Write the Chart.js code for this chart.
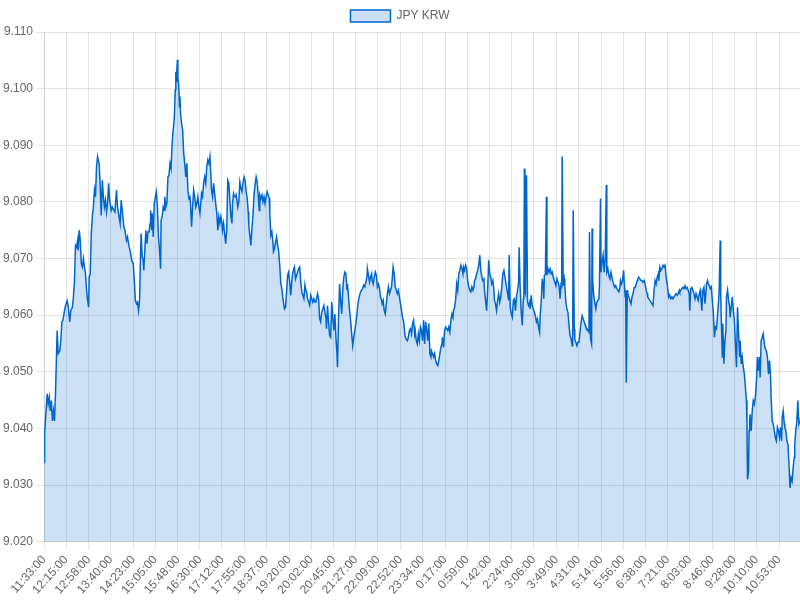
<!DOCTYPE html>
<html lang="en">
<head>
  <meta charset="UTF-8" />
  <title>JPY KRW</title>
  <script src="https://cdn.jsdelivr.net/npm/chart.js"></script>
  <style>
    body { margin: 0; background: #fff; }
    .wrap { width: 800px; height: 600px; }
  </style>
</head>
<body>
  <div class="wrap"><canvas id="rateChart"></canvas></div>

  <script>
    // minutes since 11:33:00
    const minutes = [
      0, 1, 3, 6, 8, 10, 12, 14, 16, 18, 20, 22, 25, 27, 30, 32, 34, 36, 39, 41, 44, 46, 49, 51, 54, 56, 58, 60, 62, 64, 65, 67, 69, 71, 73, 75, 77, 79, 81, 83, 85, 86, 88, 90, 92, 94, 96, 98, 100, 102, 104, 105, 107, 109, 111, 113, 115, 117, 119, 121, 123, 125, 128, 130, 133, 135, 138, 140, 142, 145, 147, 149, 152, 154, 157, 159, 162, 164, 167, 170, 172, 174, 176, 178, 180, 182,
      184, 185, 187, 189, 190, 192, 194, 196, 198, 200, 202, 203, 205, 206, 208, 210, 212, 214, 216, 218, 220, 222, 223, 225, 227, 229, 230, 232, 234, 236, 238, 240, 242, 244, 246, 248, 250, 251, 252, 253, 254, 255, 257, 258, 259, 260, 262, 264, 266, 268, 270, 272, 274, 276, 278, 279, 281, 283, 285, 287, 289, 291, 293, 295, 297, 299, 300, 302, 304, 306, 308, 310, 312, 314, 316, 318, 319, 321, 323, 325, 327, 329, 331, 333, 335, 337, 339, 340, 342, 344, 346, 348, 350, 352, 354, 356, 358, 359, 361, 363, 365,
      366, 369, 371, 373, 375, 377, 379, 381, 383, 385, 387, 389, 390, 392, 394, 396, 398, 400, 402, 404, 406, 408, 410, 411, 413, 415, 417, 419, 421, 423, 425, 427, 429, 430, 432, 434, 436, 437, 439, 441, 443, 445, 447, 449, 451, 453, 455, 457, 458, 460, 462, 464, 466, 468, 470, 472, 474, 476, 477, 479, 481, 483, 485, 487, 489, 491, 493, 495, 497, 498, 500, 502, 504, 506, 508, 510, 512, 514, 516, 518, 519, 521, 523, 525, 527, 529, 531, 533, 535, 537, 538, 540, 542, 544,
      546, 548, 550, 552, 554, 556, 558, 559, 561, 563, 565, 567, 569, 571, 573, 575, 577, 578, 580, 582, 584, 586, 588, 590, 592, 594, 596, 598, 599, 601, 603, 605, 607, 609, 611, 613, 615, 616, 618, 620, 622, 624, 625, 627, 629, 631, 633, 635, 637, 639, 641, 643, 644, 646, 648, 650, 652, 654, 656, 658, 660, 662, 664, 665, 667, 669, 671, 673, 675, 677, 679, 681, 683, 685, 686, 688, 690, 692, 694, 696, 698, 700, 702, 704, 706, 707, 709, 711, 713, 715, 717, 719, 721, 723,
      725, 727, 729, 731, 733, 735, 737, 738, 740, 742, 744, 746, 748, 750, 752, 754, 756, 758, 759, 761, 763, 765, 767, 769, 771, 773, 775, 777, 779, 780, 782, 784, 786, 788, 790, 792, 794, 796, 798, 799, 801, 803, 805, 807, 809, 811, 813, 815, 817, 819, 820, 822, 824, 826, 828, 830, 832, 834, 836, 838, 839, 841, 843, 845, 847, 849, 851, 853, 855, 857, 858, 860, 862, 864, 866, 868, 870, 872, 874, 876, 878, 879, 881, 883, 885, 886, 888, 890, 892, 894, 896, 898, 900, 902,
      904, 905, 907, 909, 911, 913, 914, 915, 916, 917, 919, 921, 923, 925, 926, 928, 930, 932, 934, 936, 938, 940, 942, 944, 945, 947, 949, 951, 952, 953, 955, 957, 958, 960, 962, 964, 966, 968, 970, 971, 973, 975, 977, 979, 981, 983, 985, 986, 987, 989, 991, 992, 994, 996, 998, 1000, 1002, 1004, 1006, 1007, 1008, 1010, 1011, 1013, 1015, 1017, 1019, 1021, 1023, 1025, 1027, 1029, 1031, 1032, 1034, 1036, 1038, 1039, 1041, 1043, 1044, 1045, 1047, 1049, 1051, 1053, 1055, 1057, 1058, 1060, 1061, 1063, 1065, 1067, 1069, 1071, 1072, 1074, 1076, 1078, 1080,
      1083, 1085, 1087, 1089, 1091, 1093, 1095, 1097, 1098, 1100, 1102, 1104, 1105, 1107, 1108, 1109, 1111, 1112, 1114, 1116, 1118, 1120, 1122, 1124, 1126, 1128, 1130, 1131, 1133, 1135, 1137, 1139, 1141, 1143, 1145, 1147, 1149, 1150, 1152, 1154, 1156, 1158, 1160, 1162, 1164, 1166, 1168, 1170, 1171, 1173, 1175, 1177, 1179, 1181, 1183, 1185, 1187, 1189, 1190, 1192, 1194, 1196, 1198, 1200, 1202, 1204, 1206, 1208, 1210, 1211, 1213, 1215, 1217, 1219, 1221, 1223, 1225, 1227, 1229, 1230, 1232, 1234, 1236, 1238, 1240, 1242, 1244, 1246, 1248, 1250, 1251, 1253, 1255, 1257, 1259,
      1262, 1264, 1265, 1267, 1269, 1271, 1273, 1275, 1277, 1279, 1281, 1283, 1285, 1286, 1288, 1289, 1291, 1292, 1293, 1295, 1297, 1299, 1300, 1302, 1304, 1306, 1307, 1309, 1311, 1313, 1315, 1317, 1319, 1321, 1323, 1325, 1326, 1328, 1330, 1332, 1334, 1336, 1338, 1339, 1340, 1342, 1343, 1344, 1345, 1347, 1349, 1351, 1353, 1355, 1357, 1359, 1361, 1363, 1364, 1366, 1368, 1370, 1372, 1374, 1376, 1378, 1380, 1382, 1384, 1385, 1387, 1389, 1391, 1393, 1395, 1397, 1399, 1401, 1403, 1405, 1406, 1408, 1410, 1411, 1413, 1415, 1417, 1419, 1421, 1423, 1425, 1427, 1429, 1430, 1432, 1434, 1436, 1437, 1438, 1440
    ];

    const rates = [
      9.0340, 9.0390, 9.0419, 9.0461, 9.0443, 9.0455, 9.0431, 9.0449, 9.0413, 9.0431, 9.0413, 9.0467, 9.0573, 9.0532, 9.0537, 9.0555, 9.0588, 9.0591, 9.0608, 9.0617, 9.0626, 9.0617, 9.0588, 9.0608, 9.0614, 9.0632, 9.0661, 9.0723, 9.0720, 9.0732, 9.0714, 9.0750, 9.0732, 9.0691, 9.0685, 9.0700, 9.0685, 9.0673, 9.0644, 9.0626, 9.0614, 9.0667, 9.0673, 9.0744, 9.0774, 9.0791, 9.0821, 9.0809, 9.0862, 9.0880, 9.0871, 9.0868, 9.0827, 9.0776, 9.0838, 9.0809, 9.0791, 9.0803, 9.0782, 9.0797, 9.0833, 9.0803, 9.0785, 9.0791, 9.0785, 9.0782, 9.0821, 9.0791, 9.0779, 9.0762, 9.0803, 9.0785, 9.0756, 9.0750, 9.0732, 9.0738, 9.0720, 9.0714, 9.0697, 9.0691, 9.0661, 9.0626, 9.0620, 9.0623, 9.0608, 9.0626,
      9.0715, 9.0744, 9.0703, 9.0697, 9.0679, 9.0715, 9.0750, 9.0726, 9.0747, 9.0747, 9.0762, 9.0785, 9.0750, 9.0780, 9.0738, 9.0797, 9.0809, 9.0818, 9.0791, 9.0738, 9.0715, 9.0682, 9.0768, 9.0774, 9.0791, 9.0785, 9.0809, 9.0791, 9.0797, 9.0844, 9.0847, 9.0868, 9.0859, 9.0903, 9.0927, 9.0945, 9.0998, 9.1030, 9.1013, 9.1033, 9.1051, 9.1021, 9.0998, 9.0968, 9.0986, 9.0956, 9.0939, 9.0927, 9.0886, 9.0868, 9.0844, 9.0868, 9.0821, 9.0806, 9.0809, 9.0797, 9.0756, 9.0791, 9.0821, 9.0809, 9.0791, 9.0797, 9.0809, 9.0791, 9.0780, 9.0803, 9.0815, 9.0809, 9.0833, 9.0844, 9.0833, 9.0862, 9.0874, 9.0868, 9.0880, 9.0844, 9.0821, 9.0809, 9.0833, 9.0815, 9.0797, 9.0780, 9.0750, 9.0774, 9.0762, 9.0774, 9.0762, 9.0750, 9.0762, 9.0744, 9.0726, 9.0750, 9.0838, 9.0833, 9.0803, 9.0774, 9.0762, 9.0797, 9.0815, 9.0809, 9.0809,
      9.0812, 9.0791, 9.0800, 9.0835, 9.0824, 9.0818, 9.0833, 9.0844, 9.0838, 9.0818, 9.0806, 9.0782, 9.0759, 9.0741, 9.0723, 9.0753, 9.0776, 9.0812, 9.0830, 9.0844, 9.0835, 9.0812, 9.0785, 9.0812, 9.0806, 9.0812, 9.0800, 9.0809, 9.0797, 9.0809, 9.0818, 9.0812, 9.0806, 9.0782, 9.0741, 9.0747, 9.0729, 9.0712, 9.0717, 9.0729, 9.0738, 9.0723, 9.0712, 9.0688, 9.0655, 9.0647, 9.0629, 9.0617, 9.0611, 9.0614, 9.0641, 9.0670, 9.0676, 9.0658, 9.0635, 9.0661, 9.0676, 9.0682, 9.0685, 9.0664, 9.0670, 9.0676, 9.0682, 9.0685, 9.0658, 9.0641, 9.0635, 9.0629, 9.0653, 9.0647, 9.0641, 9.0629, 9.0623, 9.0617, 9.0635, 9.0629, 9.0623, 9.0629, 9.0623, 9.0623, 9.0629, 9.0638, 9.0629, 9.0594, 9.0588, 9.0605, 9.0611, 9.0617, 9.0605, 9.0594, 9.0576, 9.0617, 9.0588, 9.0564,
      9.0561, 9.0623, 9.0596, 9.0573, 9.0602, 9.0561, 9.0532, 9.0508, 9.0596, 9.0655, 9.0626, 9.0602, 9.0644, 9.0667, 9.0676, 9.0673, 9.0644, 9.0655, 9.0632, 9.0608, 9.0591, 9.0567, 9.0546, 9.0561, 9.0573, 9.0585, 9.0602, 9.0620, 9.0626, 9.0635, 9.0641, 9.0644, 9.0647, 9.0653, 9.0650, 9.0658, 9.0667, 9.0682, 9.0670, 9.0658, 9.0667, 9.0673, 9.0661, 9.0655, 9.0667, 9.0676, 9.0670, 9.0650, 9.0655, 9.0647, 9.0632, 9.0626, 9.0620, 9.0626, 9.0608, 9.0602, 9.0620, 9.0638, 9.0650, 9.0638, 9.0644, 9.0650, 9.0673, 9.0685, 9.0673, 9.0650, 9.0644, 9.0638, 9.0644, 9.0632, 9.0620, 9.0608, 9.0596, 9.0588, 9.0579, 9.0561, 9.0558, 9.0555, 9.0561, 9.0573, 9.0576, 9.0567, 9.0585, 9.0591, 9.0567, 9.0573, 9.0555, 9.0549, 9.0567, 9.0555, 9.0579, 9.0573, 9.0555, 9.0591,
      9.0549, 9.0588, 9.0573, 9.0555, 9.0585, 9.0532, 9.0526, 9.0537, 9.0532, 9.0526, 9.0532, 9.0520, 9.0514, 9.0511, 9.0520, 9.0532, 9.0543, 9.0549, 9.0561, 9.0543, 9.0573, 9.0579, 9.0576, 9.0573, 9.0579, 9.0570, 9.0591, 9.0602, 9.0596, 9.0608, 9.0614, 9.0626, 9.0655, 9.0644, 9.0673, 9.0679, 9.0688, 9.0682, 9.0673, 9.0685, 9.0679, 9.0688, 9.0682, 9.0661, 9.0650, 9.0644, 9.0641, 9.0650, 9.0644, 9.0650, 9.0661, 9.0664, 9.0673, 9.0679, 9.0688, 9.0706, 9.0679, 9.0667, 9.0661, 9.0664, 9.0644, 9.0626, 9.0608, 9.0644, 9.0697, 9.0673, 9.0667, 9.0655, 9.0661, 9.0644, 9.0626, 9.0620, 9.0608, 9.0626, 9.0638, 9.0623, 9.0632, 9.0650, 9.0673, 9.0679, 9.0667, 9.0661, 9.0650, 9.0638, 9.0626, 9.0706, 9.0614, 9.0602, 9.0596, 9.0626, 9.0629, 9.0608, 9.0632, 9.0644,
      9.0658, 9.0720, 9.0647, 9.0605, 9.0582, 9.0629, 9.0635, 9.0859, 9.0641, 9.0638, 9.0847, 9.0623, 9.0617, 9.0623, 9.0611, 9.0635, 9.0617, 9.0611, 9.0605, 9.0599, 9.0588, 9.0593, 9.0579, 9.0570, 9.0599, 9.0623, 9.0664, 9.0652, 9.0629, 9.0670, 9.0673, 9.0809, 9.0670, 9.0682, 9.0676, 9.0682, 9.0673, 9.0676, 9.0667, 9.0664, 9.0658, 9.0652, 9.0664, 9.0658, 9.0652, 9.0629, 9.0658, 9.0647, 9.0880, 9.0652, 9.0664, 9.0652, 9.0623, 9.0611, 9.0605, 9.0582, 9.0564, 9.0558, 9.0546, 9.0570, 9.0785, 9.0576, 9.0558, 9.0552, 9.0546, 9.0552, 9.0552, 9.0570, 9.0588, 9.0599, 9.0593, 9.0588, 9.0582, 9.0579, 9.0576, 9.0573, 9.0570, 9.0747, 9.0558, 9.0549, 9.0753, 9.0664, 9.0635, 9.0623, 9.0611, 9.0623, 9.0626, 9.0629, 9.0652, 9.0806, 9.0676, 9.0694, 9.0706, 9.0676, 9.0700, 9.0830, 9.0676, 9.0682, 9.0670, 9.0664, 9.0676,
      9.0661, 9.0655, 9.0649, 9.0652, 9.0647, 9.0644, 9.0641, 9.0649, 9.0661, 9.0655, 9.0661, 9.0679, 9.0661, 9.0632, 9.0644, 9.0481, 9.0644, 9.0638, 9.0632, 9.0626, 9.0620, 9.0632, 9.0638, 9.0649, 9.0649, 9.0655, 9.0661, 9.0664, 9.0667, 9.0664, 9.0661, 9.0661, 9.0658, 9.0661, 9.0655, 9.0644, 9.0638, 9.0632, 9.0629, 9.0626, 9.0623, 9.0620, 9.0617, 9.0644, 9.0661, 9.0655, 9.0667, 9.0673, 9.0661, 9.0685, 9.0679, 9.0682, 9.0688, 9.0685, 9.0688, 9.0667, 9.0655, 9.0638, 9.0632, 9.0635, 9.0629, 9.0632, 9.0629, 9.0632, 9.0635, 9.0638, 9.0635, 9.0638, 9.0644, 9.0641, 9.0644, 9.0647, 9.0649, 9.0647, 9.0652, 9.0647, 9.0649, 9.0644, 9.0638, 9.0608, 9.0647, 9.0649, 9.0644, 9.0638, 9.0629, 9.0638, 9.0632, 9.0626, 9.0638, 9.0644, 9.0632, 9.0608, 9.0644, 9.0649, 9.0620,
      9.0655, 9.0661, 9.0655, 9.0653, 9.0647, 9.0650, 9.0626, 9.0602, 9.0561, 9.0579, 9.0576, 9.0602, 9.0626, 9.0644, 9.0732, 9.0632, 9.0561, 9.0526, 9.0585, 9.0514, 9.0555, 9.0573, 9.0632, 9.0644, 9.0626, 9.0614, 9.0596, 9.0614, 9.0632, 9.0608, 9.0591, 9.0549, 9.0508, 9.0614, 9.0567, 9.0526, 9.0555, 9.0514, 9.0526, 9.0508, 9.0496, 9.0472, 9.0449, 9.0408, 9.0310, 9.0325, 9.0396, 9.0413, 9.0425, 9.0396, 9.0431, 9.0449, 9.0443, 9.0455, 9.0484, 9.0526, 9.0502, 9.0526, 9.0490, 9.0555, 9.0561, 9.0567, 9.0549, 9.0540, 9.0537, 9.0526, 9.0496, 9.0520, 9.0490, 9.0455, 9.0413, 9.0408, 9.0396, 9.0384, 9.0378, 9.0402, 9.0396, 9.0384, 9.0402, 9.0378, 9.0419, 9.0431, 9.0408, 9.0402, 9.0396, 9.0378, 9.0372, 9.0337, 9.0295, 9.0313, 9.0307, 9.0331, 9.0349, 9.0372, 9.0396, 9.0413, 9.0449, 9.0419, 9.0408, 9.0413
    ];

    const tickMinutes = [0, 42, 85, 127, 170, 212, 255, 297, 339, 382, 424, 467, 509, 552, 594, 636, 679, 721, 764, 806, 849, 891, 933, 976, 1018, 1061, 1103, 1145, 1188, 1230, 1273, 1315, 1357, 1400];
    const tickLabels = ["11:33:00", "12:15:00", "12:58:00", "13:40:00", "14:23:00", "15:05:00", "15:48:00", "16:30:00", "17:12:00", "17:55:00", "18:37:00", "19:20:00", "20:02:00", "20:45:00", "21:27:00", "22:09:00", "22:52:00", "23:34:00", "0:17:00", "0:59:00", "1:42:00", "2:24:00", "3:06:00", "3:49:00", "4:31:00", "5:14:00", "5:56:00", "6:38:00", "7:21:00", "8:03:00", "8:46:00", "9:28:00", "10:10:00", "10:53:00"];

    Chart.defaults.font.family = "Arial, 'Liberation Sans', sans-serif";
    Chart.defaults.font.size = 12;
    Chart.defaults.color = "#666";

    new Chart(document.getElementById("rateChart"), {
      type: "line",
      data: {
        datasets: [{
          label: "JPY KRW",
          data: minutes.map((m, i) => ({ x: m, y: rates[i] })),
          borderColor: "rgb(0,102,204)",
          backgroundColor: "rgba(0,102,204,0.2)",
          borderWidth: 1.5,
          pointRadius: 0,
          fill: "start",
          tension: 0
        }]
      },
      options: {
        responsive: true,
        maintainAspectRatio: false,
        animation: false,
        plugins: {
          legend: { labels: { boxWidth: 40, boxHeight: 12 } },
          tooltip: { enabled: false }
        },
        scales: {
          x: {
            type: "linear",
            min: 0,
            max: 1440,
            afterBuildTicks: scale => {
              scale.ticks = tickMinutes.map(v => ({ value: v }));
            },
            ticks: {
              autoSkip: false,
              minRotation: 48,
              maxRotation: 48,
              callback: (value, index) => tickLabels[index]
            }
          },
          y: {
            min: 9.02,
            max: 9.11,
            ticks: {
              stepSize: 0.01,
              callback: v => v.toFixed(3)
            }
          }
        }
      }
    });
  </script>
</body>
</html>
